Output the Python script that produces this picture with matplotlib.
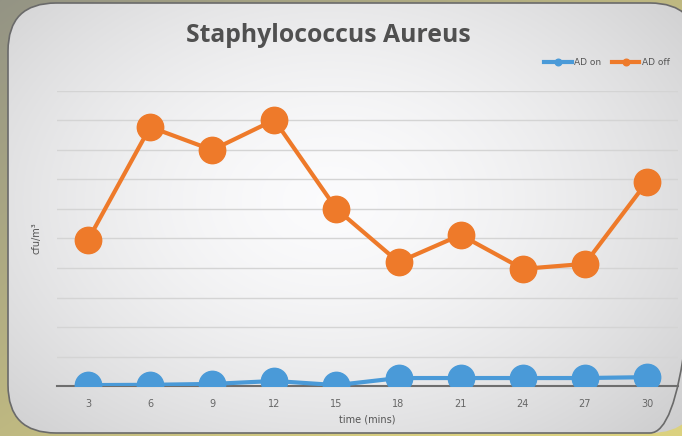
import matplotlib
matplotlib.use('Agg')
import matplotlib.pyplot as plt
import numpy as np
from matplotlib.patches import FancyBboxPatch

# data (units = grid steps)
times = ['3', '6', '9', '12', '15', '18', '21', '24', '27', '30']
ad_on = [0.03, 0.04, 0.07, 0.17, 0.03, 0.27, 0.27, 0.27, 0.27, 0.30]
ad_off = [4.95, 8.78, 8.0, 9.02, 6.0, 4.2, 5.12, 3.97, 4.14, 6.92]

blue = '#4a9ad8'
orange = '#ee7a2a'

fig = plt.figure(figsize=(6.82, 4.36), dpi=100)

# background: photo of a slide, olive/yellow outside, light rounded panel
bg = fig.add_axes([0, 0, 1, 1])
bg.set_xlim(0, 682)
bg.set_ylim(436, 0)
bg.axis('off')
yy, xx = np.mgrid[0:436, 0:682]
outer = np.zeros((436, 682, 3))
t = np.clip(xx / 682 * 0.6 + yy / 436 * 0.6, 0, 1)
c1 = np.array([0.58, 0.58, 0.52])
c2 = np.array([0.86, 0.82, 0.50])
outer[:] = c1 * (1 - t[..., None]) + c2 * t[..., None]
bg.imshow(outer, extent=[0, 682, 436, 0], zorder=0)

panel = FancyBboxPatch((8, 3), 690, 430, boxstyle='round,pad=0,rounding_size=48',
                       facecolor='none', edgecolor='#6a6a6a', linewidth=1.2, zorder=3)
bg.add_patch(panel)
r = np.sqrt(((xx - 330) / 420.0) ** 2 + ((yy - 200) / 300.0) ** 2)
shade = np.clip(0.985 - 0.15 * r ** 1.6, 0.79, 1.0)
inner = np.dstack([shade, shade, shade * 1.005])
inner = np.clip(inner, 0, 1)
im = bg.imshow(inner, extent=[0, 682, 436, 0], zorder=1)
im.set_clip_path(panel)

ax = fig.add_axes([57 / 682, 1 - 386 / 436, 621 / 682, 295 / 436])
ax.patch.set_alpha(0)
x = np.arange(len(times))

ax.plot(x, ad_on, color=blue, linewidth=3, marker='o', markersize=19,
        label='AD on', zorder=4)
ax.plot(x, ad_off, color=orange, linewidth=3, marker='o', markersize=19,
        label='AD off', zorder=4)

ax.set_xlim(-0.5, len(times) - 0.5)
ax.set_ylim(0, 10)
ax.set_yticks(np.arange(0, 11, 1))
ax.set_yticklabels([])
ax.tick_params(axis='y', length=0)
ax.grid(axis='y', color='#d4d4d4', linewidth=1)
ax.set_axisbelow(True)
ax.set_xticks(x)
ax.set_xticklabels(times, fontsize=7, color='#666666')
ax.tick_params(axis='x', length=0, pad=9)
for s in ['top', 'right', 'left']:
    ax.spines[s].set_visible(False)
ax.spines['bottom'].set_color('#6e6e6e')
ax.spines['bottom'].set_linewidth(1.5)
ax.spines['bottom'].set_zorder(2)

ax.set_xlabel('time (mins)', fontsize=7, color='#555555', labelpad=4)
ax.set_ylabel('cfu/m³', fontsize=7, color='#555555', labelpad=8)

fig.text(328 / 682, 1 - 36 / 436, 'Staphylococcus Aureus', ha='center', va='center',
         fontsize=17.8, fontweight='bold', color='#505050', family='Open Sans')

leg = ax.legend(loc='upper right', bbox_to_anchor=(1.0, 1.14), ncol=2, fontsize=6.5,
                frameon=False, markerscale=0.25, handlelength=3, columnspacing=1.2,
                handletextpad=0.3)
for txt in leg.get_texts():
    txt.set_color('#555555')

fig.savefig('out.png', dpi=100)
